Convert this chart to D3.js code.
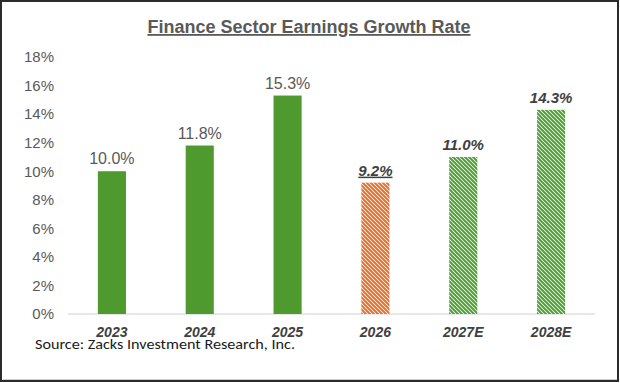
<!DOCTYPE html>
<html><head><meta charset="utf-8">
<script src="https://cdn.jsdelivr.net/npm/d3@7"></script>
<style>body{margin:0;background:#fff}svg{display:block}</style>
</head><body>
<script>
const categories = ["2023","2024","2025","2026","2027E","2028E"];
const values = [10.0, 11.8, 15.3, 9.2, 11.0, 14.3];
const kinds = ["actual","actual","actual","current","estimate","estimate"];
const yTicks = [0,2,4,6,8,10,12,14,16,18];
const title = "Finance Sector Earnings Growth Rate";
const source = "Source: Zacks Investment Research, Inc.";

const W = 620, H = 383;
const svg = d3.select("body").append("svg").attr("width", W).attr("height", H);
const defs = svg.append("defs");
function hatch(id, color){
  const p = defs.append("pattern").attr("id", id).attr("patternUnits","userSpaceOnUse")
    .attr("width",4).attr("height",4);
  p.append("rect").attr("width",4).attr("height",4).attr("fill","#fff");
  p.append("path").attr("d","M-1,-1 L5,5 M-1,3 L1,5 M3,-1 L5,1")
    .attr("stroke",color).attr("stroke-width",2);
}
hatch("hOrange","#E8702A");
hatch("hGreen","#4E9F31");

// frame
svg.append("rect").attr("x",1).attr("y",1).attr("width",W-3).attr("height",H-3)
  .attr("fill","#fff").attr("stroke","#2b2b2b").attr("stroke-width",2);
svg.append("line").attr("x1",3).attr("x2",W-3).attr("y1",H-3.5).attr("y2",H-3.5).attr("stroke","#cfcfcf").attr("stroke-width",1);

const x = d3.scaleBand().domain(categories).range([68,595]).paddingInner(0.68).paddingOuter(0.34);
const y = d3.scaleLinear().domain([0,18]).range([314,57]);

// title
svg.append("text").attr("x",309).attr("y",33).attr("text-anchor","middle")
  .attr("font-family","Liberation Sans, Arial, sans-serif").attr("font-weight","bold")
  .attr("font-size",18).attr("fill","#595959").attr("text-decoration","underline")
  .text(title);

// y axis
const yAxis = d3.axisLeft(y).tickValues(yTicks).tickFormat(d=>d+"%").tickSize(0).tickPadding(0);
const ga = svg.append("g").attr("transform","translate(54,0)").call(yAxis);
ga.select(".domain").remove();
ga.selectAll("text").attr("font-family","Liberation Sans, Arial, sans-serif").attr("font-size",15).attr("fill","#595959");

// baseline
svg.append("line").attr("x1",68).attr("x2",595).attr("y1",y(0)).attr("y2",y(0)).attr("stroke","#d0d0d0").attr("stroke-width",1);

const fillFor = k => k==="actual" ? "#4E9A2F" : k==="current" ? "url(#hOrange)" : "url(#hGreen)";
svg.selectAll("rect.bar").data(values).enter().append("rect").attr("class","bar")
  .attr("x",(d,i)=>x(categories[i])).attr("width",x.bandwidth())
  .attr("y",d=>y(d)).attr("height",d=>y(0)-y(d))
  .attr("fill",(d,i)=>fillFor(kinds[i]));

// value labels
svg.selectAll("text.val").data(values).enter().append("text").attr("class","val")
  .attr("x",(d,i)=>x(categories[i])+x.bandwidth()/2)
  .attr("y",d=>y(d)-7)
  .attr("text-anchor","middle")
  .attr("font-family","Liberation Sans, Arial, sans-serif")
  .attr("font-size",(d,i)=>kinds[i]==="actual"?16:15)
  .attr("font-weight",(d,i)=>kinds[i]==="actual"?"normal":"bold")
  .attr("font-style",(d,i)=>kinds[i]==="actual"?"normal":"italic")
  .attr("fill",(d,i)=>kinds[i]==="actual"?"#595959":"#404040")
  .attr("text-decoration",(d,i)=>kinds[i]==="current"?"underline":null)
  .text(d=>d.toFixed(1)+"%");

// x axis labels
const xAxis = d3.axisBottom(x).tickSize(0).tickPadding(0);
const gx = svg.append("g").attr("transform","translate(0,"+(y(0)+13)+")").call(xAxis);
gx.select(".domain").remove();
gx.selectAll("text").attr("font-family","Liberation Sans, Arial, sans-serif").attr("font-size",14)
  .attr("font-weight","bold").attr("font-style","italic").attr("fill","#404040");

// source
svg.append("text").attr("x",35).attr("y",349)
  .attr("font-family","Carlito, Lato, 'Open Sans', sans-serif").attr("font-size",15)
  .attr("fill","#1a1a1a").attr("textLength",260).attr("lengthAdjust","spacingAndGlyphs")
  .text(source);
</script>
</body></html>
